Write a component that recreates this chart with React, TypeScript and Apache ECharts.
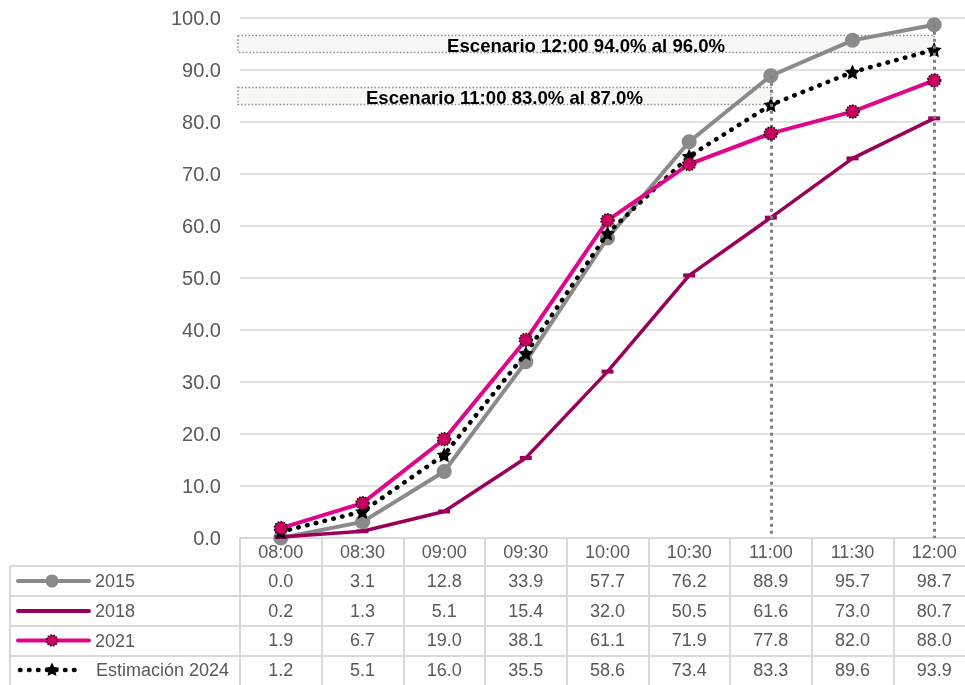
import React, { useEffect, useRef } from 'react';
import * as echarts from 'echarts';

const times = ['08:00', '08:30', '09:00', '09:30', '10:00', '10:30', '11:00', '11:30', '12:00'];
const s2015 = [0.0, 3.1, 12.8, 33.9, 57.7, 76.2, 88.9, 95.7, 98.7];
const s2018 = [0.2, 1.3, 5.1, 15.4, 32.0, 50.5, 61.6, 73.0, 80.7];
const s2021 = [1.9, 6.7, 19.0, 38.1, 61.1, 71.9, 77.8, 82.0, 88.0];
const s2024 = [1.2, 5.1, 16.0, 35.5, 58.6, 73.4, 83.3, 89.6, 93.9];
const seriesNames = ['2015', '2018', '2021', 'Estimación 2024'];
const scenarioTimes = ['12:00', '11:00'];
const scenarioLow = [94.0, 83.0];
const scenarioHigh = [96.0, 87.0];
const guideTimes = ['11:00', '12:00'];

const FONT = 'Liberation Sans, Arial, sans-serif';
const TXT = '#595959';
const GRID = '#d9d9d9';
const C2015 = '#8a8a8a';
const C2018 = '#99005a';
const C2021 = '#e0068c';
const C2021M = '#c8005f';
const STAR = 'path://M0,-10 L2.9,-4 9.5,-3.1 4.7,1.5 5.9,8.1 0,5 -5.9,8.1 -4.7,1.5 -9.5,-3.1 -2.9,-4 Z';
const starPts = [
  [0, -10], [2.9, -4], [9.5, -3.1], [4.7, 1.5], [5.9, 8.1], [0, 5], [-5.9, 8.1], [-4.7, 1.5], [-9.5, -3.1], [-2.9, -4],
];

export default function App() {
  const ref = useRef<HTMLDivElement>(null);
  useEffect(() => {
    if (!ref.current) return;
    const chart = echarts.init(ref.current, null, { renderer: 'svg' });
    const allSeries = [s2015, s2018, s2021, s2024];
    const option: any = {
      animation: false,
      textStyle: { fontFamily: FONT },
      grid: { left: 240, top: 18, width: 735, height: 520, containLabel: false, outerBoundsMode: 'none' },
      xAxis: {
        type: 'category',
        data: times,
        boundaryGap: true,
        axisLine: { lineStyle: { color: GRID, width: 2 } },
        axisTick: { show: true, length: 147, interval: 0, lineStyle: { color: GRID, width: 2 } },
        axisLabel: {
          interval: 0,
          margin: -1,
          color: TXT,
          fontSize: 18,
          lineHeight: 29.5,
          fontFamily: FONT,
          hideOverlap: false,
          formatter: (v: string, i: number) =>
            [v, ...allSeries.map((s) => s[i].toFixed(1))].join('\n'),
        },
        splitLine: { show: false },
      },
      yAxis: {
        type: 'value',
        min: 0,
        max: 100,
        interval: 10,
        axisLine: { show: false },
        axisTick: { show: false },
        axisLabel: { color: TXT, fontSize: 20, margin: 19, fontFamily: FONT, formatter: (v: number) => v.toFixed(1) },
        splitLine: { lineStyle: { color: GRID, width: 1.5 } },
      },
      series: [
        {
          name: seriesNames[0],
          type: 'line',
          data: s2015,
          symbol: 'circle',
          symbolSize: 15,
          lineStyle: { color: C2015, width: 4 },
          itemStyle: { color: C2015 },
          z: 2,
          markLine: {
            silent: true,
            symbol: 'none',
            animation: false,
            label: { show: false },
            lineStyle: { color: '#7f7f7f', width: 3, type: [3, 4] },
            data: guideTimes.map((t) => [
              { coord: [t, s2015[times.indexOf(t)]] },
              { coord: [t, 0] },
            ]),
          },
        },
        {
          name: seriesNames[1],
          type: 'line',
          data: s2018,
          symbol: 'rect',
          symbolSize: [12, 4],
          lineStyle: { color: C2018, width: 3.5 },
          itemStyle: { color: C2018 },
          z: 3,
        },
        {
          name: seriesNames[3],
          type: 'line',
          data: s2024,
          symbol: STAR,
          symbolSize: 15,
          lineStyle: { color: '#000', width: 4.5, type: [0.5, 8.5], cap: 'round' },
          itemStyle: { color: '#000' },
          z: 4,
        },
        {
          name: seriesNames[2],
          type: 'line',
          data: s2021,
          symbol: 'circle',
          symbolSize: 13,
          lineStyle: { color: C2021, width: 4 },
          itemStyle: { color: C2021M, borderColor: '#000', borderWidth: 1.5, borderType: 'dotted' },
          z: 5,
        },
      ],
    };
    chart.setOption(option);

    const x0 = 238;
    const boxes = scenarioTimes.map((t, i) => {
      const xr = chart.convertToPixel({ xAxisIndex: 0 }, t) as number;
      const yc = chart.convertToPixel({ yAxisIndex: 0 }, (scenarioLow[i] + scenarioHigh[i]) / 2) as number;
      const text = `Escenario ${t} ${scenarioLow[i].toFixed(1)}% al ${scenarioHigh[i].toFixed(1)}%`;
      return {
        type: 'group',
        z: 1,
        children: [
          {
            type: 'rect',
            shape: { x: x0, y: yc - 8.5, width: xr - x0, height: 17 },
            style: { fill: '#f7f7f3', stroke: '#8a8a8a', lineWidth: 1.5, lineDash: [1.5, 2] },
          },
          {
            type: 'text',
            x: (x0 + xr) / 2,
            y: yc + 1,
            style: {
              text,
              fill: '#000',
              fontSize: 18.6,
              fontWeight: 'bold',
              fontFamily: FONT,
              align: 'center',
              verticalAlign: 'middle',
            },
          },
        ],
      };
    });
    const rowLines = [566, 596, 626, 656].map((y) => ({
      type: 'line',
      shape: { x1: 10, y1: y, x2: 975, y2: y },
      style: { stroke: GRID, lineWidth: 2 },
    }));
    const leftLine = {
      type: 'line',
      shape: { x1: 10, y1: 566, x2: 10, y2: 690 },
      style: { stroke: GRID, lineWidth: 2 },
    };

    // legend column of the data table
    const rowY = [581, 611, 640.5, 670];
    const lx1 = 18;
    const lx2 = 89;
    const mx = 52;
    const legendEls: any[] = [];
    seriesNames.forEach((name, i) => {
      const y = rowY[i];
      legendEls.push({
        type: 'text',
        x: i === 3 ? 96 : 95,
        y,
        style: { text: name, fill: TXT, fontSize: 18, fontFamily: FONT, align: 'left', verticalAlign: 'middle' },
      });
    });
    legendEls.push(
      { type: 'line', shape: { x1: lx1, y1: rowY[0], x2: lx2, y2: rowY[0] }, style: { stroke: C2015, lineWidth: 4, lineCap: 'round' } },
      { type: 'circle', shape: { cx: mx, cy: rowY[0], r: 6.5 }, style: { fill: C2015 } },
      { type: 'line', shape: { x1: lx1, y1: rowY[1], x2: lx2, y2: rowY[1] }, style: { stroke: C2018, lineWidth: 4, lineCap: 'round' } },
      { type: 'line', shape: { x1: lx1, y1: rowY[2], x2: lx2, y2: rowY[2] }, style: { stroke: C2021, lineWidth: 4, lineCap: 'round' } },
      { type: 'circle', shape: { cx: mx, cy: rowY[2], r: 5.5 }, style: { fill: C2021M, stroke: '#000', lineWidth: 1.5, lineDash: [1.5, 1.5] } },
      { type: 'line', shape: { x1: 20, y1: rowY[3], x2: 80, y2: rowY[3] }, style: { stroke: '#000', lineWidth: 4.5, lineDash: [0.5, 8.5], lineCap: 'round' } },
      { type: 'polygon', shape: { points: starPts.map(([px, py]) => [mx + px * 0.75, rowY[3] + py * 0.75]) }, style: { fill: '#000' } },
    );

    chart.setOption({ graphic: [...boxes, ...rowLines, leftLine, ...legendEls] });

    return () => chart.dispose();
  }, []);
  return <div ref={ref} style={{ position: 'fixed', left: 0, top: 0, width: 965, height: 685 }} />;
}
